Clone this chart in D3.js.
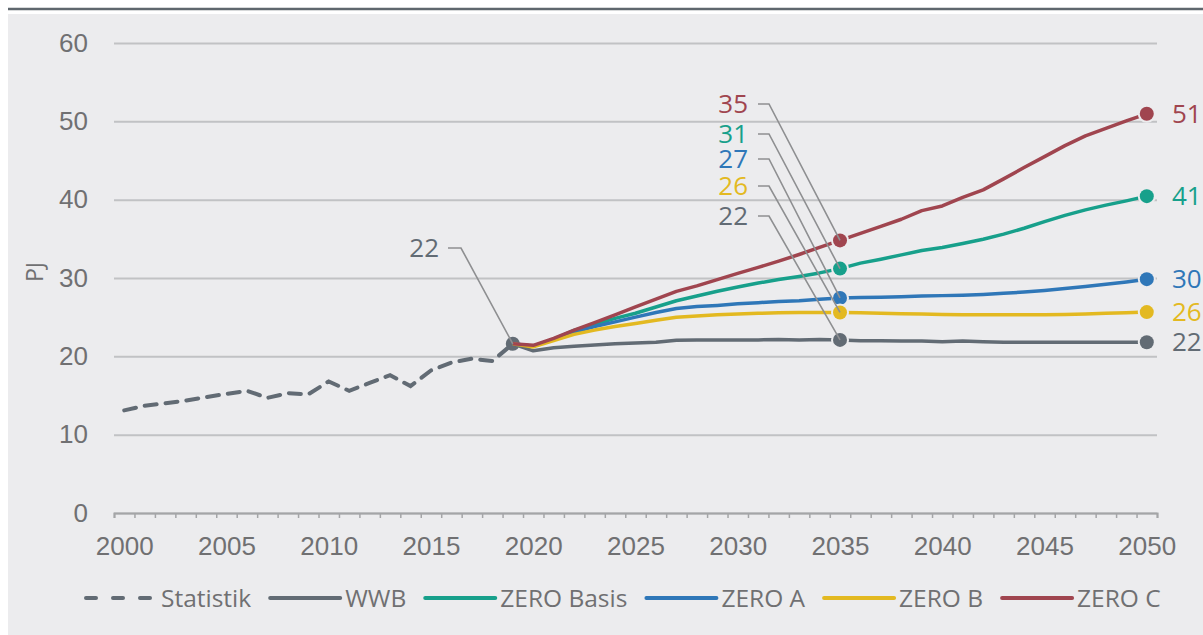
<!DOCTYPE html>
<html>
<head>
<meta charset="utf-8">
<script src="https://cdn.jsdelivr.net/npm/d3@7"></script>
<style>
  body { margin: 0; background: #fff; }
  svg { display: block; font-family: "Open Sans", "Liberation Sans", sans-serif; }
</style>
</head>
<body>
<script>
// --- data ---
const histYears = d3.range(2000, 2020);
const statistik = [13.1, 13.7, 14.0, 14.35, 14.8, 15.2, 15.6, 14.7, 15.3, 15.15,
                   16.8, 15.6, 16.6, 17.6, 16.2, 18.2, 19.2, 19.7, 19.4, 21.6];

const scenYears = d3.range(2019, 2051);
const wwb = [21.6, 20.7, 21.1, 21.3, 21.45, 21.6, 21.7, 21.8, 22.05, 22.1, 22.1, 22.1, 22.1, 22.15, 22.1, 22.15,
             22.1, 22.0, 22.0, 21.95, 21.95, 21.85, 21.95, 21.85, 21.8, 21.8, 21.8, 21.8, 21.8, 21.8, 21.8, 21.8];
const zeroBasis = [21.6, 21.3, 22.2, 23.3, 24.1, 24.85, 25.5, 26.3, 27.1, 27.7, 28.3, 28.85, 29.35, 29.8, 30.2, 30.65,
                   31.2, 31.9, 32.4, 32.95, 33.5, 33.9, 34.4, 34.95, 35.6, 36.35, 37.2, 38.0, 38.7, 39.3, 39.85, 40.45];
const zeroA = [21.6, 21.3, 22.15, 23.1, 23.8, 24.4, 25.0, 25.6, 26.1, 26.35, 26.5, 26.7, 26.85, 27.0, 27.1, 27.3,
               27.45, 27.5, 27.55, 27.6, 27.7, 27.75, 27.8, 27.9, 28.05, 28.2, 28.4, 28.65, 28.9, 29.2, 29.5, 29.85];
const zeroB = [21.6, 21.2, 22.0, 22.8, 23.35, 23.8, 24.2, 24.6, 25.0, 25.15, 25.3, 25.4, 25.5, 25.55, 25.6, 25.6,
               25.6, 25.55, 25.5, 25.45, 25.4, 25.35, 25.3, 25.3, 25.3, 25.3, 25.3, 25.35, 25.4, 25.5, 25.55, 25.65];
const zeroC = [21.6, 21.4, 22.3, 23.35, 24.3, 25.3, 26.3, 27.3, 28.3, 29.0, 29.8, 30.6, 31.35, 32.15, 33.0, 33.9,
               34.8, 35.7, 36.6, 37.5, 38.6, 39.2, 40.3, 41.25, 42.65, 44.1, 45.5, 46.9, 48.15, 49.1, 50.06, 50.96];

const seriesNames = ["WWB", "ZERO Basis", "ZERO A", "ZERO B", "ZERO C"];
const seriesValues = [wwb, zeroBasis, zeroA, zeroB, zeroC];
const seriesColors = ["#626b74", "#17a08b", "#2f77b8", "#e3b921", "#a0454f"];
const labels2035 = [22, 31, 27, 26, 35];
const labels2050 = [22, 41, 30, 26, 51];
const label2019 = 22;
const yTicks = [0, 10, 20, 30, 40, 50, 60];
const xLabelYears = d3.range(2000, 2051, 5);

// --- layout ---
const W = 1203, H = 635;
const plotLeft = 114, plotRight = 1157, plotTop = 43, plotBottom = 513;
const bg = "#ececee";
const textGrey = "#707072";
const fs = 26;

const svg = d3.select("body").append("svg")
    .attr("width", W).attr("height", H);

svg.append("rect").attr("width", W).attr("height", H).attr("fill", "#fff");
svg.append("rect").attr("x", 8).attr("y", 14).attr("width", W - 8).attr("height", H - 14).attr("fill", bg);
svg.append("line").attr("x1", 8).attr("x2", W).attr("y1", 9).attr("y2", 9)
    .attr("stroke", "#5f676e").attr("stroke-width", 2.5);

const x = d3.scaleLinear().domain([1999.5, 2050.5]).range([plotLeft, plotRight]);
const y = d3.scaleLinear().domain([0, 60]).range([plotBottom, plotTop]);

// gridlines + y labels
const gy = svg.append("g")
    .attr("transform", `translate(${plotLeft},0)`)
    .call(d3.axisLeft(y).tickValues(yTicks).tickSize(-(plotRight - plotLeft)).tickPadding(26));
gy.select(".domain").remove();
gy.selectAll(".tick line").attr("stroke", "#c1c2c4").attr("stroke-width", 2);
gy.selectAll(".tick text").attr("fill", textGrey).style("font-size", fs + "px");

// x axis: small ticks on year boundaries, labels every 5 years
const gx = svg.append("g")
    .attr("transform", `translate(0,${plotBottom})`)
    .call(d3.axisBottom(x).tickValues(d3.range(1999.5, 2051, 1)).tickSize(5).tickFormat(""));
gx.select(".domain").attr("stroke", "#a4a5a7").attr("stroke-width", 2);
gx.selectAll(".tick line").attr("stroke", "#a4a5a7").attr("stroke-width", 1.5);

const gxl = svg.append("g")
    .attr("transform", `translate(0,${plotBottom})`)
    .call(d3.axisBottom(x).tickValues(xLabelYears).tickSize(0).tickPadding(24).tickFormat(d3.format("d")));
gxl.select(".domain").remove();
gxl.selectAll(".tick text").attr("fill", textGrey).style("font-size", fs + "px");

// y axis title
svg.append("text")
    .attr("transform", `translate(43,272) rotate(-90)`)
    .attr("text-anchor", "middle")
    .attr("fill", textGrey).style("font-size", "23px")
    .text("PJ");

const line = d3.line().x(d => x(d[0])).y(d => y(d[1]));

// 2019 start dot (under the lines)
const v2019 = statistik[statistik.length - 1];
svg.append("circle").attr("cx", x(2019)).attr("cy", y(v2019)).attr("r", 7)
    .attr("fill", "#626b74");

// historical dashed line
svg.append("path")
    .datum(histYears.map((yr, i) => [yr, statistik[i]]))
    .attr("d", line)
    .attr("fill", "none")
    .attr("stroke", "#626b74")
    .attr("stroke-width", 4)
    .attr("stroke-dasharray", "12,9")
    .attr("stroke-linecap", "round");

// scenario lines with dots at 2035 and 2050
seriesValues.forEach((vals, s) => {
    svg.append("path")
        .datum(scenYears.map((yr, i) => [yr, vals[i]]))
        .attr("d", line)
        .attr("fill", "none")
        .attr("stroke", seriesColors[s])
        .attr("stroke-width", 3.5)
        .attr("stroke-linejoin", "round");
});
seriesValues.forEach((vals, s) => {
    [2035, 2050].forEach(yr => {
        svg.append("circle")
            .attr("cx", x(yr)).attr("cy", y(vals[scenYears.indexOf(yr)]))
            .attr("r", 7)
            .attr("fill", seriesColors[s])
            .attr("stroke", bg).attr("stroke-width", 4)
            .attr("paint-order", "stroke");
    });
});

// leader labels at 2035
const leaderY = [216, 134, 159, 186, 104];
seriesValues.forEach((vals, s) => {
    const cy = y(vals[scenYears.indexOf(2035)]);
    svg.append("path")
        .attr("d", `M758,${leaderY[s]}H769L${x(2035)},${cy}`)
        .attr("fill", "none").attr("stroke", "#8e8f91").attr("stroke-width", 1.6);
    svg.append("text")
        .attr("x", 748).attr("y", leaderY[s]).attr("dy", "0.35em")
        .attr("text-anchor", "end")
        .attr("fill", seriesColors[s]).style("font-size", fs + "px")
        .text(labels2035[s]);
});

// leader label at 2019
svg.append("path")
    .attr("d", `M448,248H461L${x(2019)},${y(v2019)}`)
    .attr("fill", "none").attr("stroke", "#8e8f91").attr("stroke-width", 1.6);
svg.append("text")
    .attr("x", 439).attr("y", 248).attr("dy", "0.35em")
    .attr("text-anchor", "end")
    .attr("fill", "#626b74").style("font-size", fs + "px")
    .text(label2019);

// end labels at 2050
seriesValues.forEach((vals, s) => {
    svg.append("text")
        .attr("x", 1172).attr("y", y(vals[vals.length - 1])).attr("dy", "0.35em")
        .attr("fill", seriesColors[s]).style("font-size", fs + "px")
        .text(labels2050[s]);
});

// legend
const legendItems = [{name: "Statistik", color: "#626b74", dash: true}]
    .concat(seriesNames.map((n, i) => ({name: n, color: seriesColors[i], dash: false})));
let lx = 86;
const ly = 598;
legendItems.forEach(it => {
    svg.append("line")
        .attr("x1", lx).attr("x2", lx + 70).attr("y1", ly).attr("y2", ly)
        .attr("stroke", it.color).attr("stroke-width", 4)
        .attr("stroke-linecap", "round")
        .attr("stroke-dasharray", it.dash ? "10,17" : null);
    const t = svg.append("text")
        .attr("x", lx + 75).attr("y", ly).attr("dy", "0.35em")
        .attr("fill", textGrey).style("font-size", "24.5px")
        .text(it.name);
    lx += 75 + t.node().getComputedTextLength() + 19;
});
</script>
</body>
</html>
